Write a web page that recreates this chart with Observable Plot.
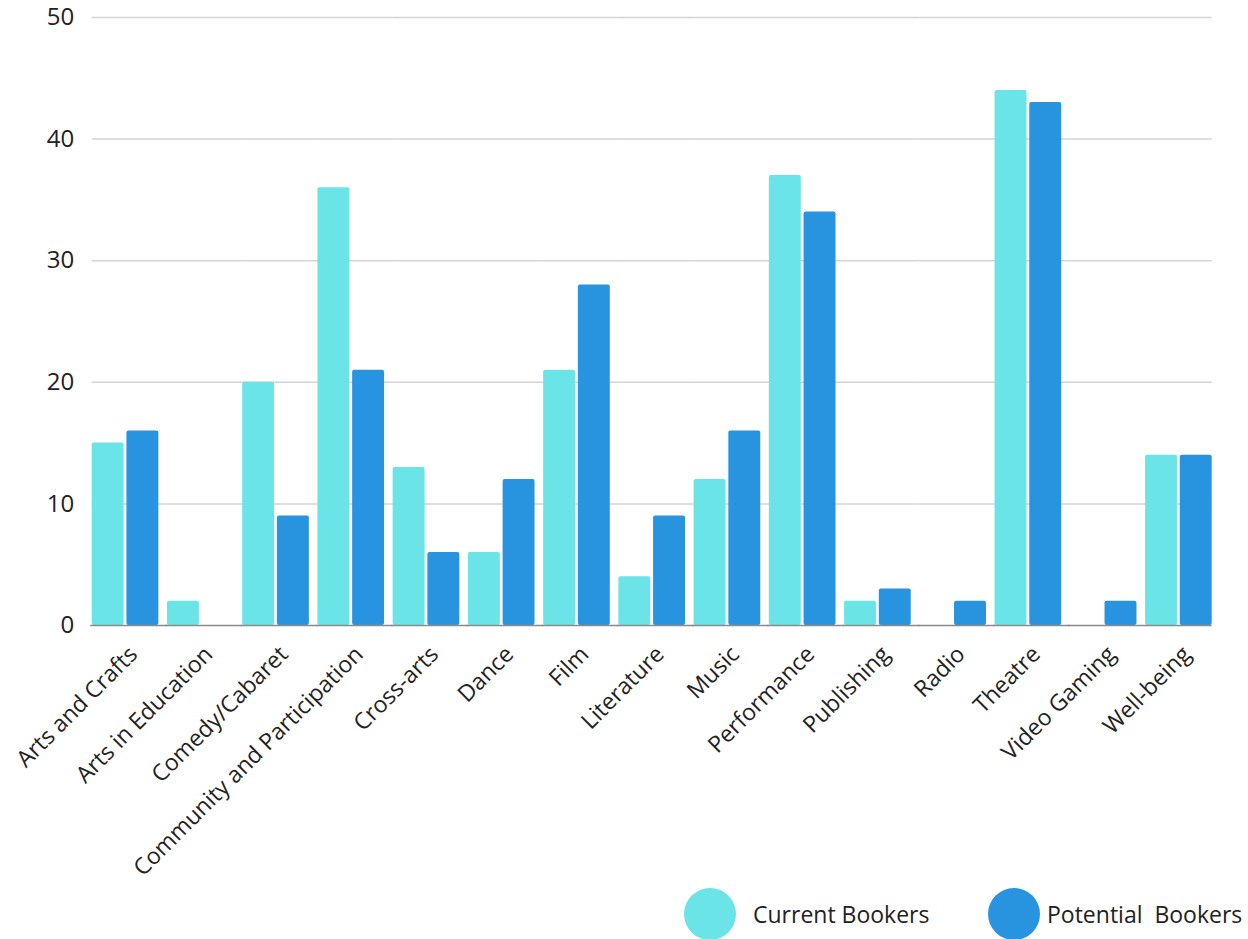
<!DOCTYPE html>
<html>
<head>
<meta charset="utf-8">
<script src="https://cdn.jsdelivr.net/npm/d3@7"></script>
<script src="https://cdn.jsdelivr.net/npm/@observablehq/plot@0.6"></script>
<style>
  html, body { margin: 0; padding: 0; background: #fff; }
  #wrap { position: relative; width: 1248px; height: 939px; overflow: hidden; font-family: "Open Sans", sans-serif; }
  #legend { position: absolute; left: 0; top: 884px; width: 1248px; height: 55px; }
  .item { position: absolute; top: 4px; display: flex; align-items: center; font-size: 23px; color: #222; }
  .dot { width: 52px; height: 52px; border-radius: 50%; margin-right: 16px; }
</style>
</head>
<body>
<div id="wrap">
  <div id="chart"></div>
  <div id="legend"></div>
</div>
<script>
const categories = ["Arts and Crafts", "Arts in Education", "Comedy/Cabaret", "Community and Participation", "Cross-arts", "Dance", "Film", "Literature", "Music", "Performance", "Publishing", "Radio", "Theatre", "Video Gaming", "Well-being"];
const seriesNames = ["Current Bookers", "Potential  Bookers"];
const currentBookers = [15, 2, 20, 36, 13, 6, 21, 4, 12, 37, 2, 0, 44, 0, 14];
const potentialBookers = [16, 0, 9, 21, 6, 12, 28, 9, 16, 34, 3, 2, 43, 2, 14];
const yTicks = [0, 10, 20, 30, 40, 50];
const colors = ["#6BE4E8", "#2894E0"];

const data = [];
categories.forEach((c, i) => {
  data.push({category: c, series: seriesNames[0], value: currentBookers[i]});
  data.push({category: c, series: seriesNames[1], value: potentialBookers[i]});
});

// horizontal rules per facet, so they join across the gaps between groups
const gridRows = [];
categories.forEach((c, i) => yTicks.forEach(t => gridRows.push({category: c, tick: t, last: i === categories.length - 1})));
const innerRows = gridRows.filter(d => !d.last);
const lastRows = gridRows.filter(d => d.last);
const gap = 8.6;
const gridStyle = {stroke: "#d4d4d4", strokeWidth: 1.5};
const baseStyle = {stroke: "#8a8a8a", strokeWidth: 1.5};

const chart = Plot.plot({
  width: 1248,
  height: 884,
  marginTop: 17,
  marginBottom: 259,
  marginLeft: 91.7,
  marginRight: 36.3,
  style: {fontFamily: "'Open Sans', sans-serif", background: "#fff", color: "#222"},
  fx: {domain: categories, paddingInner: 0.114, paddingOuter: 0, round: false, label: null, axis: null},
  x: {domain: seriesNames, paddingInner: 0.08, paddingOuter: 0, round: false, axis: null},
  y: {domain: [0, 50], label: null},
  color: {domain: seriesNames, range: colors},
  marks: [
    Plot.ruleY(innerRows.filter(d => d.tick > 0), {fx: "category", y: "tick", ...gridStyle, insetRight: -gap}),
    Plot.ruleY(lastRows.filter(d => d.tick > 0), {fx: "category", y: "tick", ...gridStyle}),
    Plot.barY(data, {fx: "category", x: "series", y: "value", fill: "series", rx: 2}),
    Plot.ruleY(innerRows.filter(d => d.tick === 0), {fx: "category", y: "tick", ...baseStyle, insetRight: -gap, insetLeft: -1.5}),
    Plot.ruleY(lastRows.filter(d => d.tick === 0), {fx: "category", y: "tick", ...baseStyle}),
    Plot.axisY({ticks: yTicks, tickSize: 0, tickPadding: 18, fontSize: 24, label: null}),
    Plot.axisFx({anchor: "bottom", tickSize: 0, tickRotate: -45, fontSize: 23, tickPadding: 6, label: null, dx: 8, dy: 19})
  ]
});
document.getElementById("chart").appendChild(chart);

const legend = document.getElementById("legend");
const positions = [684, 988];
seriesNames.forEach((s, i) => {
  const item = document.createElement("div");
  item.className = "item";
  item.style.left = positions[i] + "px";
  const dot = document.createElement("div");
  dot.className = "dot";
  dot.style.background = colors[i];
  dot.style.marginRight = i === 0 ? "17px" : "7px";
  const label = document.createElement("span");
  label.textContent = s;
  label.style.whiteSpace = "pre";
  item.appendChild(dot);
  item.appendChild(label);
  legend.appendChild(item);
});
</script>
</body>
</html>
